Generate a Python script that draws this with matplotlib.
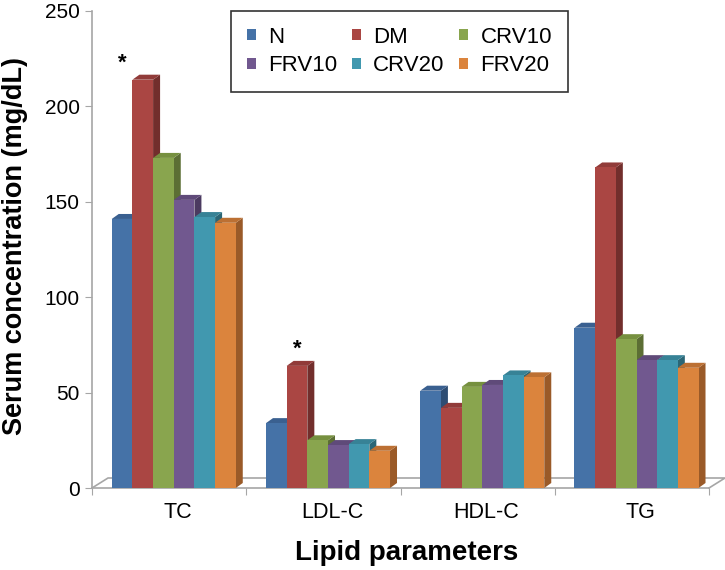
import matplotlib
matplotlib.use("Agg")
import matplotlib.pyplot as plt
from matplotlib.patches import Polygon, Patch
import numpy as np

plt.rcParams['font.family'] = ['Liberation Sans', 'DejaVu Sans']

categories = ["TC", "LDL-C", "HDL-C", "TG"]
series = ["N", "DM", "CRV10", "FRV10", "CRV20", "FRV20"]
N_vals = [141, 34, 51, 84]
DM_vals = [214, 64, 42, 168]
CRV10_vals = [173, 25, 53, 78]
FRV10_vals = [151, 22.5, 54, 67]
CRV20_vals = [142, 23, 59, 67]
FRV20_vals = [139, 19.5, 58, 63]
values = [N_vals, DM_vals, CRV10_vals, FRV10_vals, CRV20_vals, FRV20_vals]
yticks = [0, 50, 100, 150, 200, 250]
star_cats = [0, 1]  # categories with * above DM

front_colors = ["#4572A7", "#AA4643", "#89A54E", "#71588F", "#4198AF", "#DB843D"]
side_colors = ["#2E4D73", "#722E2C", "#5C6E34", "#4B3A60", "#2A6676", "#9A5A28"]
top_colors = ["#3A6090", "#913B39", "#76903F", "#5F4A79", "#378296", "#BC7033"]

W, H = 725, 570
fig = plt.figure(figsize=(W / 100, H / 100), dpi=100)
x0, x1, ytop, ybot = 92, 709, 11, 488
ax = fig.add_axes([x0 / W, 1 - ybot / H, (x1 - x0) / W, (ybot - ytop) / H])
ax.set_xlim(-0.5, len(categories) - 0.5)
ax.set_ylim(0, 250)

px_x = (x1 - x0) / len(categories)   # px per x unit
px_y = (ybot - ytop) / 250.0          # px per y unit

# depth offsets
ddx, ddy = 7 / px_x, 5 / px_y          # bar depth
fdx, fdy = 16 / px_x, 10 / px_y        # floor depth

gray = "#A6A6A6"
# floor back line + diagonals
xl, xr = -0.5, len(categories) - 0.5
ax.plot([xl, xl + fdx, xr + fdx, xr], [0, fdy, fdy, 0], color=gray, lw=1.2,
        clip_on=False, zorder=1)

bw = 0.134
shift = 0.03
xc = np.arange(len(categories))
for i, (vals, fc, sc, tc) in enumerate(zip(values, front_colors, side_colors, top_colors)):
    xs = xc + shift + (i - 2.5) * bw
    ax.bar(xs, vals, width=bw, color=fc, edgecolor="none", zorder=3 + i * 0.01)
    for x, v in zip(xs, vals):
        r = x + bw / 2
        l = x - bw / 2
        side = Polygon([(r, 0), (r + ddx, ddy), (r + ddx, v + ddy), (r, v)],
                       closed=True, facecolor=sc, edgecolor="none", zorder=2.9 + i * 0.01,
                       clip_on=False)
        top = Polygon([(l, v), (l + ddx, v + ddy), (r + ddx, v + ddy), (r, v)],
                      closed=True, facecolor=tc, edgecolor="none", zorder=2.9 + i * 0.01,
                      clip_on=False)
        ax.add_patch(side)
        ax.add_patch(top)

# significance stars
for c in star_cats:
    xdm = xc[c] + shift + (1 - 2.5) * bw
    off = -20 if c == 0 else 0
    ax.annotate("*", xy=(xdm, DM_vals[c]), xytext=(off, 6), textcoords="offset pixels",
                ha="center", va="bottom", fontsize=16, fontweight="bold", zorder=6)

# axes styling
for s in ["top", "right"]:
    ax.spines[s].set_visible(False)
ax.spines["left"].set_color(gray)
ax.spines["bottom"].set_color(gray)
ax.spines["left"].set_linewidth(1.2)
ax.spines["bottom"].set_linewidth(1.2)

ax.set_yticks(yticks)
ax.set_yticklabels([str(t) for t in yticks], fontsize=15)
ax.tick_params(axis="y", length=5, color=gray, pad=4)

ax.set_xticks(np.arange(len(categories) + 1) - 0.5)
ax.set_xticklabels([])
ax.tick_params(axis="x", length=5, color=gray, direction="out")
for c, name in zip(xc, categories):
    ax.text(c + 0.058, -25 / (ybot - ytop), name, transform=ax.get_xaxis_transform(),
            ha="center", va="center", fontsize=15.5)

fig.text(407 / W, 1 - 553 / H, "Lipid parameters", ha="center", va="center",
         fontsize=20, fontweight="bold")
fig.text(15 / W, 1 - 246 / H, "Serum concentration (mg/dL)", ha="center", va="center",
         rotation=90, fontsize=19.5, fontweight="bold")

# legend: rows N DM CRV10 / FRV10 CRV20 FRV20
order = [0, 3, 1, 4, 2, 5]
handles = [Patch(facecolor=front_colors[k], edgecolor="none") for k in order]
labels = [series[k] for k in order]
leg = fig.legend(handles, labels, ncol=3, loc="upper left",
                 bbox_to_anchor=(231 / W, 1 - 11 / H), frameon=True, fancybox=False,
                 edgecolor="black", fontsize=16, handlelength=0.42, handleheight=0.42,
                 handletextpad=0.55, columnspacing=0.65, labelspacing=0.35,
                 borderpad=0.7, borderaxespad=0)
leg.get_frame().set_linewidth(1.2)

fig.savefig("out.png", dpi=100)
